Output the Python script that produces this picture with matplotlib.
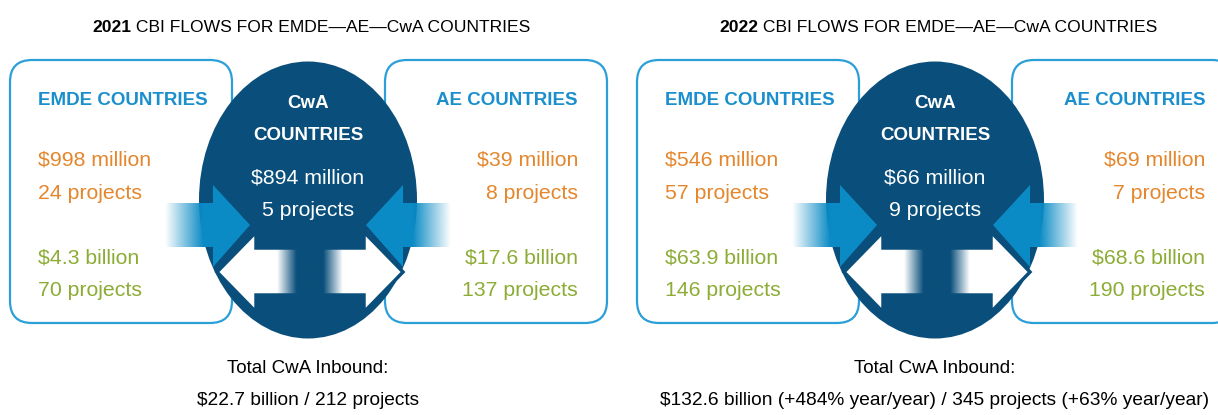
import numpy as np
import matplotlib as mpl
mpl.use('Agg')
import matplotlib.pyplot as plt
from matplotlib.patches import FancyBboxPatch, Ellipse, Polygon

plt.rcParams['font.family'] = ['Liberation Sans', 'DejaVu Sans']

# data, one entry per panel
years = ['2021', '2022']
emde_amount = ['$998 million', '$546 million']
emde_count = ['24 projects', '57 projects']
emde_total_amount = ['$4.3 billion', '$63.9 billion']
emde_total_count = ['70 projects', '146 projects']
cwa_amount = ['$894 million', '$66 million']
cwa_count = ['5 projects', '9 projects']
ae_amount = ['$39 million', '$69 million']
ae_count = ['8 projects', '7 projects']
ae_total_amount = ['$17.6 billion', '$68.6 billion']
ae_total_count = ['137 projects', '190 projects']
inbound = ['$22.7 billion / 212 projects',
           '$132.6 billion (+484% year/year) / 345 projects (+63% year/year)']
title_rest = ' CBI FLOWS FOR EMDE\u2014AE\u2014CwA COUNTRIES'

navy = '#0a4f7b'
light = '#0b8bc5'
boxblue = '#2a9fd8'
head = '#1b8fcd'
orange = '#e4862c'
green = '#8cac35'

W, H = 1218, 415
fig = plt.figure(figsize=(W / 100, H / 100), dpi=100)
ax = fig.add_axes([0, 0, 1, 1])
ax.set_xlim(0, W)
ax.set_ylim(H, 0)
ax.axis('off')

VAL = 15.3   # value text size
HDR = 13.5   # bold heading size


def grad_image(x0, x1, y0, y1, color, alpha_fn, clip=None, z=3):
    n = 200
    t = np.linspace(0, 1, n)
    rgba = np.zeros((2, n, 4))
    rgba[..., :3] = mpl.colors.to_rgb(color)
    rgba[..., 3] = alpha_fn(t)
    im = ax.imshow(rgba, extent=(x0, x1, y1, y0), aspect='auto',
                   interpolation='bilinear', zorder=z)
    if clip is not None:
        im.set_clip_path(clip)
    return im


def draw_panel(i, cx):
    # title: bold year then regular text
    t1 = ax.text(cx - 216, 27, years[i], fontsize=12.6, fontweight='bold',
                 va='center', ha='left')
    ax.annotate(title_rest, xy=(1, 0), xycoords=t1, va='bottom', ha='left',
                fontsize=12.6)

    # side boxes
    for bx in (cx - 298, cx + 77):
        ax.add_patch(FancyBboxPatch((bx, 60), 222, 263,
                                    boxstyle='round,pad=0,rounding_size=22',
                                    fc='white', ec=boxblue, lw=1.6, zorder=1))

    # central circle
    ax.add_patch(Ellipse((cx, 200), 218, 277, fc=navy, ec='none', zorder=2))

    # incoming arrows, faded tails
    for s in (-1, 1):
        pts = [(cx + s * 143, 203), (cx + s * 95, 203), (cx + s * 95, 185),
               (cx + s * 58, 225), (cx + s * 95, 267), (cx + s * 95, 247),
               (cx + s * 143, 247)]
        poly = Polygon(pts, closed=True, fc='none', ec='none', zorder=3)
        ax.add_patch(poly)
        if s < 0:
            fn = lambda t: np.clip(t / 0.45, 0, 1)
            grad_image(cx - 143, cx - 58, 185, 267, light, fn, clip=poly)
        else:
            fn = lambda t: np.clip((1 - t) / 0.45, 0, 1)
            grad_image(cx + 58, cx + 143, 185, 267, light, fn, clip=poly)

    # white double arrow
    dbl = [(cx - 91, 272), (cx - 52, 232), (cx - 52, 248), (cx + 56, 248),
           (cx + 56, 232), (cx + 95, 272), (cx + 56, 312), (cx + 56, 295),
           (cx - 52, 295), (cx - 52, 312)]
    ax.add_patch(Polygon(dbl, closed=True, fc='white', ec=navy, lw=2.5,
                         joinstyle='miter', zorder=4))

    # faded stem through the shaft
    grad_image(cx - 31, cx + 35, 249, 294, navy,
               lambda t: np.clip((1 - np.abs(2 * t - 1)) * 1.7, 0, 1), z=5)

    # text inside boxes
    lx = cx - 270
    ax.text(lx, 100, 'EMDE COUNTRIES', color=head, fontsize=HDR,
            fontweight='bold', va='center', ha='left')
    ax.text(lx, 160, emde_amount[i], color=orange, fontsize=VAL, va='center')
    ax.text(lx, 193, emde_count[i], color=orange, fontsize=VAL, va='center')
    ax.text(lx, 258, emde_total_amount[i], color=green, fontsize=VAL, va='center')
    ax.text(lx, 290, emde_total_count[i], color=green, fontsize=VAL, va='center')

    rx = cx + 270
    ax.text(rx, 100, 'AE COUNTRIES', color=head, fontsize=HDR,
            fontweight='bold', va='center', ha='right')
    ax.text(rx, 160, ae_amount[i], color=orange, fontsize=VAL, va='center', ha='right')
    ax.text(rx, 193, ae_count[i], color=orange, fontsize=VAL, va='center', ha='right')
    ax.text(rx, 258, ae_total_amount[i], color=green, fontsize=VAL, va='center', ha='right')
    ax.text(rx, 290, ae_total_count[i], color=green, fontsize=VAL, va='center', ha='right')

    # circle text
    ax.text(cx, 103, 'CwA', color='white', fontsize=HDR, fontweight='bold',
            ha='center', va='center', zorder=6)
    ax.text(cx, 135, 'COUNTRIES', color='white', fontsize=HDR, fontweight='bold',
            ha='center', va='center', zorder=6)
    ax.text(cx, 178, cwa_amount[i], color='white', fontsize=VAL,
            ha='center', va='center', zorder=6)
    ax.text(cx, 210, cwa_count[i], color='white', fontsize=VAL,
            ha='center', va='center', zorder=6)

    # totals under the diagram
    ax.text(cx, 368, 'Total CwA Inbound:', fontsize=13.5, ha='center', va='center')
    ax.text(cx, 400, inbound[i], fontsize=13.8, ha='center', va='center')


draw_panel(0, 308)
draw_panel(1, 935)

fig.savefig('out.png', dpi=100)
